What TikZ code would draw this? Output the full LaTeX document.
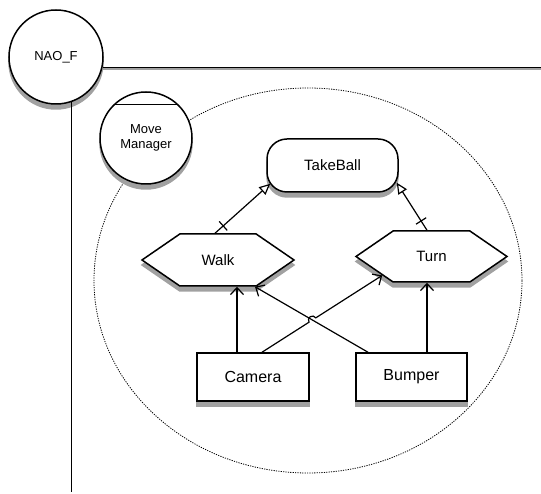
\documentclass[tikz,border=0pt]{standalone}
\usepackage{fontspec}
\setmainfont{Liberation Sans}
\usetikzlibrary{arrows.meta,shapes.symbols,decorations.markings,intersections,calc}

\pgfdeclarelayer{background}
\pgfsetlayers{background,main}

\tikzset{
  outline/.style={draw, line width=1.5pt, fill=white, inner sep=2pt},
  shade copy/.style={fill=black!37, draw=black!37},
  objcircle/.style={outline, circle, font=\fontsize{13}{15.5}\selectfont, align=center},
  taskbox/.style={outline, rectangle, rounded corners=20pt, font=\fontsize{15}{18}\selectfont},
  behaviour/.style={outline, signal, signal to=east and west, signal pointer angle=69,
    font=\fontsize{15}{18}\selectfont},
  sensor/.style={outline, rectangle, font=\fontsize{16}{19}\selectfont},
  uses/.style={line width=1.2pt, -{Straight Barb[length=7pt, width=13pt, line width=1.2pt]}},
  refines/.style={line width=1.2pt, -{Triangle[open, length=11pt, width=10pt, line width=1.2pt, fill=white]},
    postaction={decorate},
    decoration={markings, mark=at position 11pt with {\draw[-, line width=1.2pt] (0pt,-6pt) -- (0pt,6pt);}}},
  lifeline/.style={line width=1.5pt},
}

\begin{document}
\begin{tikzpicture}[x=1pt, y=1pt]
\useasboundingbox (0,0) rectangle (541,494);

% agent and its lifelines
\node[objcircle, minimum size=94pt] (nao) at (56,437) {NAO\_F};
\coordinate (rightend) at (541,426);
\coordinate (bottomend) at (71,2);
\draw[lifeline, black!37] ([yshift=-1.5pt]nao.-13.5) -- ([yshift=-1.5pt]nao.-13.5 -| rightend);
\draw[lifeline] (nao.-13.5) -- (nao.-13.5 -| rightend);
\draw[lifeline] (nao.-71.4) -- (nao.-71.4 |- bottomend);

% move manager component
\node[objcircle, minimum size=92pt] (mm) at (146,356) {Move\\Manager};
\draw[line width=1.5pt] (mm.134) -- (mm.46);

% goal, behaviours and sensors
\node[taskbox, minimum width=131pt, minimum height=53pt] (take) at (332.5,328.5) {TakeBall};
\node[behaviour, minimum width=152pt, minimum height=52pt] (walk) at (218,234) {Walk};
\node[behaviour, minimum width=151pt, minimum height=51pt] (turn) at (431.5,237.5) {Turn};
\node[sensor, minimum width=112pt, minimum height=48pt] (cam) at (253,117) {Camera};
\node[sensor, minimum width=111pt, minimum height=48pt] (bump) at (411.5,117) {Bumper};

% scope boundary and drop shadows, behind everything else
\begin{pgfonlayer}{background}
  \draw[line width=0.8pt, dash pattern=on 1.2pt off 1.2pt] (308,213.5) ellipse [x radius=214pt, y radius=192.5pt];
  \node[objcircle, shade copy, minimum size=94pt] (naoshade) at ([yshift=-5pt]nao.center) {};
  \node[objcircle, shade copy, minimum size=92pt] (mmshade) at ([yshift=-5pt]mm.center) {};
  \node[taskbox, shade copy, minimum width=131pt, minimum height=53pt] (takeshade) at ([yshift=-5pt]take.center) {};
  \node[behaviour, shade copy, minimum width=152pt, minimum height=52pt] (walkshade) at ([yshift=-5pt]walk.center) {};
  \node[behaviour, shade copy, minimum width=151pt, minimum height=51pt] (turnshade) at ([yshift=-5pt]turn.center) {};
  \node[sensor, shade copy, minimum width=112pt, minimum height=48pt] (camshade) at ([yshift=-5pt]cam.center) {};
  \node[sensor, shade copy, minimum width=111pt, minimum height=48pt] (bumpshade) at ([yshift=-5pt]bump.center) {};
\end{pgfonlayer}

% refinement links
\draw[refines] ([xshift=-3pt]walk.north) -- ([shift={(4,9)}]take.south west);
\draw[refines] ([xshift=-4.5pt]turn.north) -- ([shift={(-2,10)}]take.south east);

% sensor inputs
\draw[uses] ([xshift=-16pt]cam.north) -- ([xshift=-16pt]cam.north |- walk.south);
\draw[uses] ([xshift=15.5pt]bump.north) -- ([xshift=15.5pt]bump.north |- turn.south);

\coordinate (bwS) at ([xshift=-43.5pt]bump.north);
\coordinate (bwE) at ([xshift=37pt]walk.south);
\coordinate (ctS) at ([xshift=9pt]cam.north);
\coordinate (ctE) at (turn.201);
\path[name path=bwline] (bwS) -- (bwE);
\path[name path=ctline] (ctS) -- (ctE);
\draw[uses] (bwS) -- (bwE);
\draw[uses, name intersections={of=bwline and ctline, by=hop}]
  let \p1=($(ctE)-(ctS)$), \n1={atan2(\y1,\x1)} in
  (ctS) -- ($(hop)!4pt!(ctS)$) arc[start angle=\n1+180, delta angle=-180, radius=4pt] -- (ctE);
\end{tikzpicture}
\end{document}
